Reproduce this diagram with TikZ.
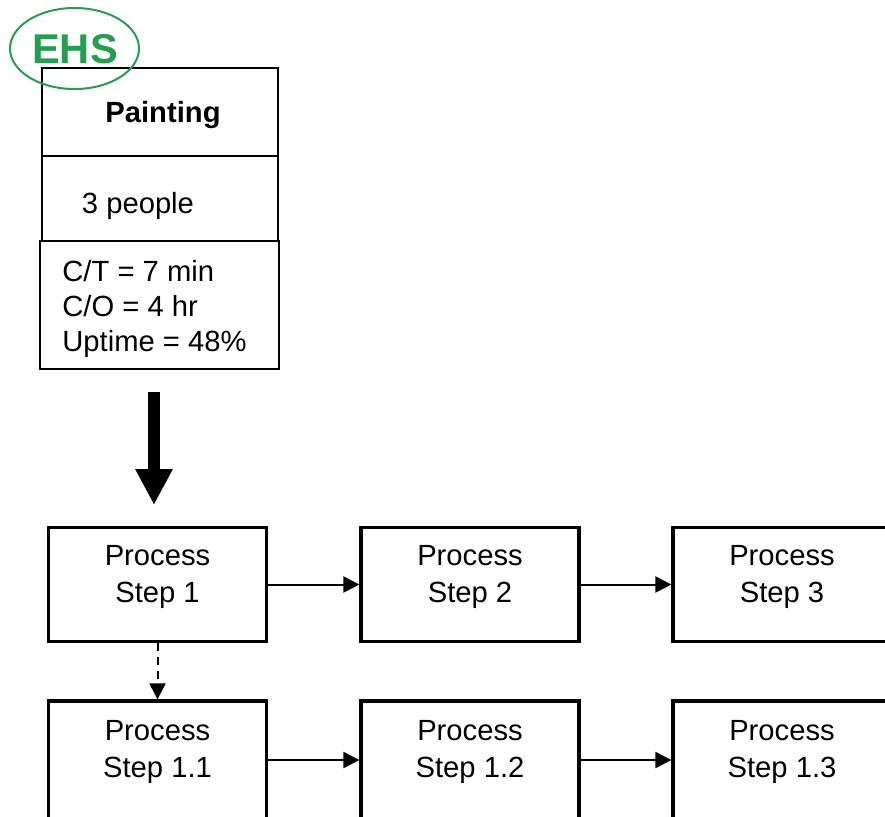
\documentclass[tikz,border=0pt]{standalone}
\usepackage{fontspec}
\setmainfont{Liberation Sans}
\usetikzlibrary{arrows.meta}
\usetikzlibrary{shapes.geometric}
\definecolor{ehsgreen}{RGB}{34,160,80}
\tikzset{stepbox/.style = {draw, line width = 1.6pt, minimum width = 109pt, minimum height = 57pt, inner sep = 0, align = center, font = \fontsize{14.6}{18.5}\selectfont},
  infobox/.style = {draw, line width = 1pt, minimum width = 118pt, inner sep = 0},
  flow/.style = {line width = 1pt, -{Triangle[length = 8pt, width = 8pt]}}}

\begin{document}
\begin{tikzpicture}[x = 0.5pt, y = -0.5pt]
      \useasboundingbox (0, 0) rectangle (885, 816);

      \node [infobox, minimum height = 44pt] (title) at (160, 112) {};
      \node [font = \fontsize{14.6}{17}\selectfont\bfseries] (titletext) at (163, 115) {Painting};
      \node [infobox, minimum height = 42.5pt] (crew) at (160, 198.5) {};
      \node [font = \fontsize{14.6}{17}\selectfont] (crewtext) at (138, 206) {3 people};
      \node [infobox, minimum width = 119.5pt, minimum height = 64pt] (data) at (159.5, 305) {};
      \node [font = \fontsize{14.6}{17.5}\selectfont, align = left, anchor = west, inner sep = 0] (datatext) at (62, 309) {C/T = 7 min\\C/O = 4 hr\\Uptime = 48\%};

      \node [draw = ehsgreen, ellipse, line width = 1pt, minimum width = 64.5pt, minimum height = 40.5pt, inner sep = 0] (ehs) at (74.5, 48.5) {};
      \node [ehsgreen, font = \fontsize{20.8}{24}\selectfont\bfseries] (ehstext) at (75, 49) {EHS};

      \coordinate (bigstart) at (154, 392);
      \coordinate (bigend) at (154, 505);
      \draw [line width = 6pt, -{Triangle[length = 18pt, width = 17.5pt]}] (bigstart) -- (bigend);

      \node [stepbox] (s1) at (157.5, 584.5) {Process\\Step 1\\[-7.5pt]};
      \node [stepbox] (s2) at (470, 584.5) {Process\\Step 2\\[-7.5pt]};
      \node [stepbox] (s3) at (782, 584.5) {Process\\Step 3\\[-7.5pt]};
      \node [stepbox, minimum height = 59pt] (s11) at (157.5, 760) {Process\\Step 1.1\\[-7.5pt]};
      \node [stepbox, minimum height = 59pt] (s12) at (470, 760) {Process\\Step 1.2\\[-7.5pt]};
      \node [stepbox, minimum height = 59pt] (s13) at (782, 760) {Process\\Step 1.3\\[-7.5pt]};

      \draw [flow] (s1) -- (s2);
      \draw [flow] (s2) -- (s3);
      \draw [flow] (s11) -- (s12);
      \draw [flow] (s12) -- (s13);
      \draw [flow, dash pattern = on 4pt off 3pt] (s1) -- (s11);
    \end{tikzpicture}
\end{document}
